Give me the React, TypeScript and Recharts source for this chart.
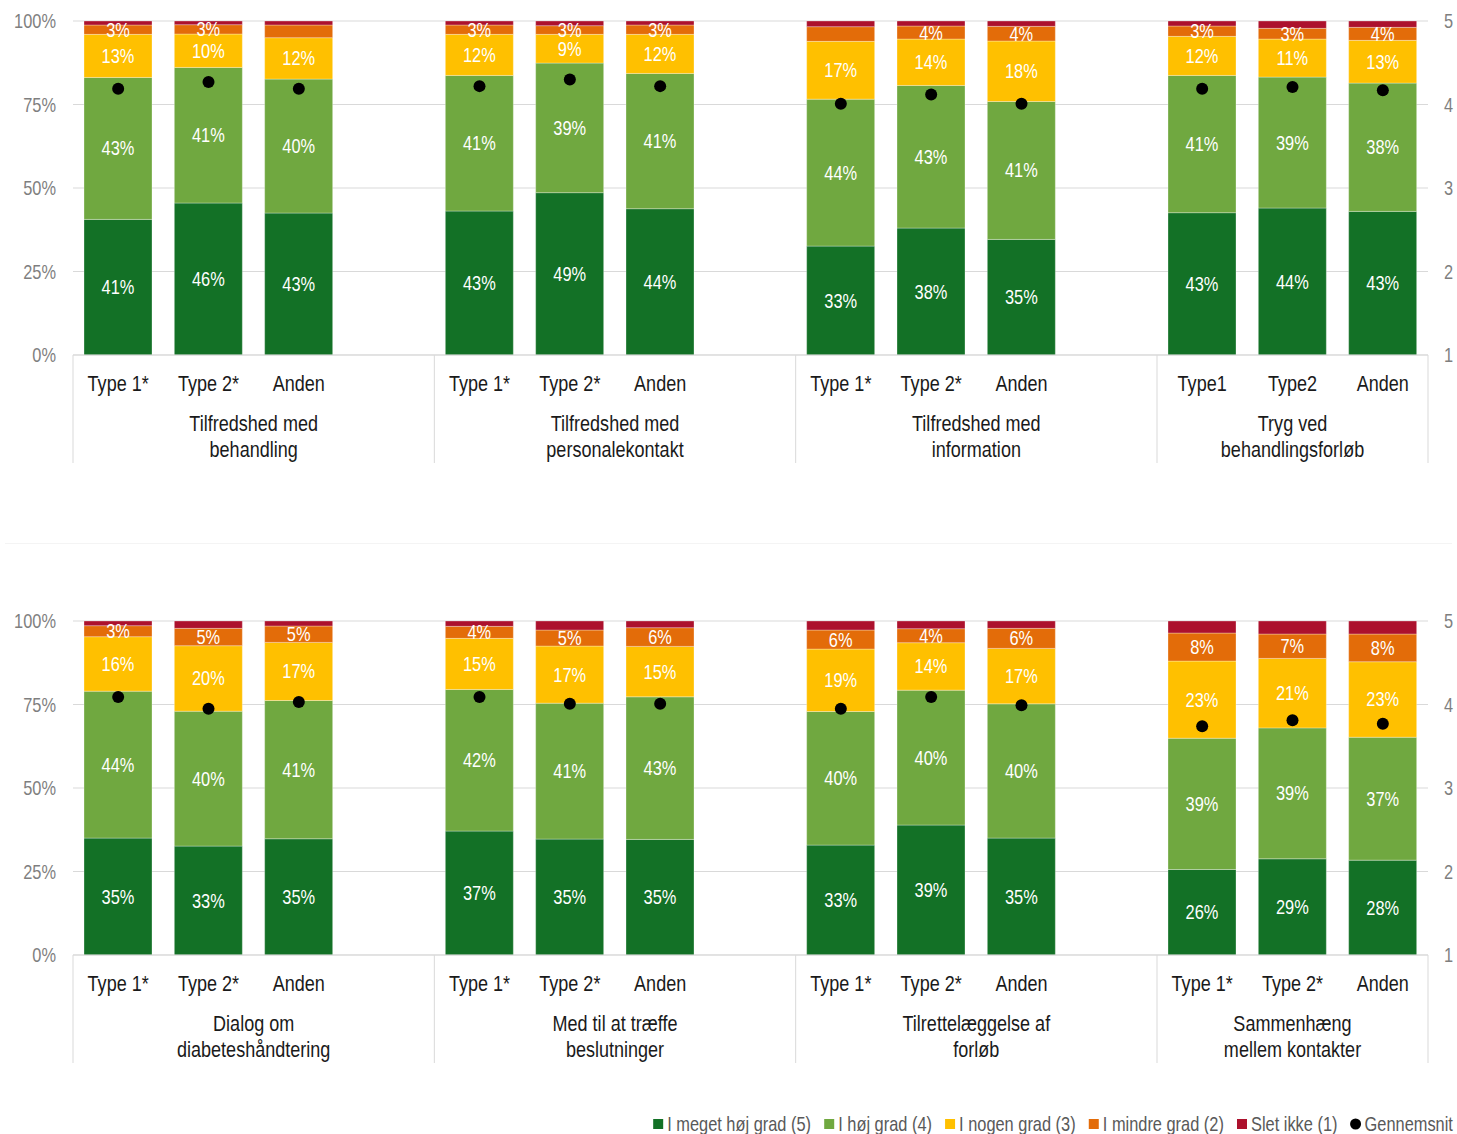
import React from "react";
import {
  ComposedChart, Bar, Scatter, XAxis, YAxis, CartesianGrid, LabelList, Legend,
} from "recharts";

// Arial-Narrow look: Liberation Sans squeezed horizontally
const FONT = "'Liberation Sans', Arial, sans-serif";
const NARROW = 0.82;

const CHART_W = 1457;
const LEFT_W = 73;
const RIGHT_W = 29;
const PLOT_TOP = 21;
const PLOT_H = 334;
const AXIS_H = 115;
const LEGEND_H = 64;
const SLOTS = 15;
const BAND = (CHART_W - LEFT_W - RIGHT_W) / SLOTS;

const SERIES = [
  { key: "veryHigh", name: "I meget høj grad (5)", color: "#137126" },
  { key: "high", name: "I høj grad (4)", color: "#70A840" },
  { key: "some", name: "I nogen grad (3)", color: "#FFC000" },
  { key: "less", name: "I mindre grad (2)", color: "#E36C09" },
  { key: "none", name: "Slet ikke (1)", color: "#AC112D" },
];

// --- top panel ---
const topDomains = [
  ["Tilfredshed med", "behandling"],
  ["Tilfredshed med", "personalekontakt"],
  ["Tilfredshed med", "information"],
  ["Tryg ved", "behandlingsforløb"],
];
const topCategories = [
  "Type 1*", "Type 2*", "Anden",
  "Type 1*", "Type 2*", "Anden",
  "Type 1*", "Type 2*", "Anden",
  "Type1", "Type2", "Anden",
];
const topVeryHigh = [40.6, 45.5, 42.5, 43.1, 48.6, 43.8, 32.6, 38.0, 34.6, 42.6, 44.0, 43.0];
const topHigh = [42.5, 40.6, 40.1, 40.6, 38.8, 40.5, 44.0, 42.7, 41.3, 41.1, 39.2, 38.4];
const topSome = [12.9, 10.0, 12.4, 12.3, 8.6, 11.7, 17.3, 13.9, 18.1, 11.7, 11.4, 12.8];
const topLess = [2.8, 2.8, 3.8, 2.8, 2.6, 2.8, 4.4, 3.9, 4.4, 3.1, 3.2, 3.9];
const topNone = [1.2, 1.1, 1.2, 1.2, 1.4, 1.2, 1.7, 1.5, 1.6, 1.5, 2.2, 1.9];
const topMean = [4.19, 4.27, 4.19, 4.22, 4.30, 4.22, 4.01, 4.12, 4.01, 4.19, 4.21, 4.17];
// segments printed without a value label
const topUnlabelled: [string, number][] = [["less", 2], ["less", 6]];

// --- bottom panel ---
const bottomDomains = [
  ["Dialog om", "diabeteshåndtering"],
  ["Med til at træffe", "beslutninger"],
  ["Tilrettelæggelse af", "forløb"],
  ["Sammenhæng", "mellem kontakter"],
];
const bottomCategories = [
  "Type 1*", "Type 2*", "Anden",
  "Type 1*", "Type 2*", "Anden",
  "Type 1*", "Type 2*", "Anden",
  "Type 1*", "Type 2*", "Anden",
];
const bottomVeryHigh = [35.0, 32.6, 34.8, 37.1, 34.7, 34.6, 32.9, 38.9, 35.0, 25.6, 28.8, 28.4];
const bottomHigh = [44.0, 40.4, 41.4, 42.4, 40.7, 42.7, 40.0, 40.4, 40.2, 39.3, 39.2, 36.8];
const bottomSome = [16.3, 19.6, 17.4, 15.3, 17.1, 15.1, 18.7, 14.2, 16.6, 23.1, 20.8, 22.6];
const bottomLess = [3.3, 5.2, 4.9, 3.6, 4.8, 5.6, 5.7, 4.2, 6.0, 8.4, 7.3, 8.3];
const bottomNone = [1.4, 2.2, 1.5, 1.6, 2.7, 2.0, 2.7, 2.3, 2.2, 3.6, 3.9, 3.9];
const bottomMean = [4.09, 3.95, 4.03, 4.09, 4.01, 4.01, 3.95, 4.09, 3.99, 3.74, 3.81, 3.77];
const bottomUnlabelled: [string, number][] = [];

const pctTicks = [0, 25, 50, 75, 100];
const meanTicks = [1, 2, 3, 4, 5];

type Row = Record<string, any>;

function buildRows(
  domains: string[][], categories: string[], series: Record<string, number[]>,
  mean: number[], unlabelled: [string, number][],
): Row[] {
  const rows: Row[] = [];
  domains.forEach((domain, g) => {
    const last = g === domains.length - 1;
    for (let j = 0; j < 3; j++) {
      const i = g * 3 + j;
      const row: Row = {
        slot: `${g}-${j}`,
        cat: categories[i],
        domain: j === 0 ? domain : null,
        domainSlots: last ? 3 : 4,
        closes: last && j === 2,
        mean: mean[i],
      };
      Object.keys(series).forEach((k) => {
        const v = series[k][i];
        row[k] = v;
        const hide = k === "none" || unlabelled.some(([s, n]) => s === k && n === i);
        row[`${k}Label`] = hide ? "" : `${Math.round(v)}%`;
      });
      rows.push(row);
    }
    if (!last) rows.push({ slot: `${g}-gap`, cat: "", domain: null });
  });
  return rows;
}

const topRows = buildRows(
  topDomains, topCategories,
  { veryHigh: topVeryHigh, high: topHigh, some: topSome, less: topLess, none: topNone },
  topMean, topUnlabelled,
);
const bottomRows = buildRows(
  bottomDomains, bottomCategories,
  { veryHigh: bottomVeryHigh, high: bottomHigh, some: bottomSome, less: bottomLess, none: bottomNone },
  bottomMean, bottomUnlabelled,
);

let measureCtx: CanvasRenderingContext2D | null = null;
function textWidth(text: string, size: number) {
  if (!measureCtx) measureCtx = document.createElement("canvas").getContext("2d");
  if (!measureCtx) return text.length * size * 0.5;
  measureCtx.font = `${size}px ${FONT}`;
  return measureCtx.measureText(text).width * NARROW;
}

function NarrowText({ x, y, size, fill, anchor = "middle", dy, children }: any) {
  return (
    <text transform={`translate(${x},${y}) scale(${NARROW},1)`} textAnchor={anchor} dy={dy}
      fontSize={size} fill={fill} fontFamily={FONT}>{children}</text>
  );
}

function CategoryTick({ x, y, payload, rows }: any) {
  const row = rows.find((r: Row) => r.slot === payload.value);
  if (!row) return null;
  const left = x - BAND / 2;
  const lineStyle = { stroke: "#d9d9d9", strokeWidth: 1 };
  return (
    <g>
      <NarrowText x={x} y={y + 36} size={22} fill="#1a1a1a">{row.cat}</NarrowText>
      {row.domain && (
        <>
          <line x1={left} x2={left} y1={y} y2={y + 108} {...lineStyle} />
          {row.domain.map((line: string, k: number) => (
            <NarrowText key={k} x={left + (row.domainSlots * BAND) / 2} y={y + 76 + k * 26}
              size={22} fill="#1a1a1a">{line}</NarrowText>
          ))}
        </>
      )}
      {row.closes && <line x1={x + BAND / 2} x2={x + BAND / 2} y1={y} y2={y + 108} {...lineStyle} />}
    </g>
  );
}

const PctTick = ({ x, y, payload }: any) => (
  <NarrowText x={x} y={y} dy="0.35em" anchor="end" size={20} fill="#7f7f7f">{`${payload.value}%`}</NarrowText>
);
const MeanTick = ({ x, y, payload }: any) => (
  <NarrowText x={x} y={y} dy="0.35em" anchor="start" size={20} fill="#7f7f7f">{payload.value}</NarrowText>
);

const SegmentLabel = ({ x, y, width, height, value }: any) =>
  value ? (
    <NarrowText x={x + width / 2} y={y + height / 2} dy="0.35em" size={20} fill="#ffffff">{value}</NarrowText>
  ) : null;

const MeanDot = (p: any) =>
  Number.isFinite(p.cx) && Number.isFinite(p.cy) ? <circle cx={p.cx} cy={p.cy} r={6} fill="#000" /> : <g />;

// legend laid out right-to-left from the chart's right edge
function LegendContent() {
  const size = 20;
  const items = [
    ...SERIES.map((s) => ({ label: s.name, color: s.color, dot: false })),
    { label: "Gennemsnit", color: "#000", dot: true },
  ];
  const gap = 13;
  const marker = 10;
  const pad = 4;
  let cursor = CHART_W - 4;
  const placed = items.slice().reverse().map((it) => {
    const w = textWidth(it.label, size);
    const textX = cursor - w;
    const markX = textX - pad - marker;
    cursor = markX - gap;
    return { ...it, textX, markX };
  });
  const cy = LEGEND_H - 10;
  return (
    <svg width={CHART_W} height={LEGEND_H} style={{ display: "block" }}>
      {placed.map((it) => (
        <g key={it.label}>
          {it.dot
            ? <circle cx={it.markX + marker / 2} cy={cy} r={5.5} fill={it.color} />
            : <rect x={it.markX} y={cy - marker / 2} width={marker} height={marker} fill={it.color} />}
          <NarrowText x={it.textX} y={cy} dy="0.35em" anchor="start" size={size} fill="#595959">{it.label}</NarrowText>
        </g>
      ))}
    </svg>
  );
}

function Panel({ rows, legend }: { rows: Row[]; legend?: boolean }) {
  const height = PLOT_TOP + PLOT_H + AXIS_H + (legend ? LEGEND_H : 0);
  return (
    <ComposedChart width={CHART_W} height={height} data={rows}
      margin={{ top: PLOT_TOP, right: 0, bottom: 0, left: 0 }} barSize={68}>
      <CartesianGrid vertical={false} stroke="#d9d9d9" yAxisId="pct" />
      <XAxis dataKey="slot" interval={0} height={AXIS_H} tickSize={0} tickMargin={0}
        axisLine={{ stroke: "#d9d9d9" }} tickLine={false}
        tick={(props: any) => <CategoryTick {...props} rows={rows} />} />
      <YAxis yAxisId="pct" width={LEFT_W} domain={[0, 100]} allowDataOverflow ticks={pctTicks}
        axisLine={false} tickLine={false} tickSize={0} tickMargin={17} tick={PctTick} />
      <YAxis yAxisId="mean" orientation="right" width={RIGHT_W} domain={[1, 5]} allowDataOverflow ticks={meanTicks}
        axisLine={false} tickLine={false} tickSize={0} tickMargin={16} tick={MeanTick} />
      {SERIES.map((s) => (
        <Bar key={s.key} dataKey={s.key} name={s.name} stackId="share" yAxisId="pct" fill={s.color}
          stroke="#ffffff" strokeOpacity={0.3} strokeWidth={1} isAnimationActive={false}>
          {s.key !== "none" && <LabelList dataKey={`${s.key}Label`} content={SegmentLabel} />}
        </Bar>
      ))}
      <Scatter dataKey="mean" name="Gennemsnit" yAxisId="mean" fill="#000" shape={MeanDot} isAnimationActive={false} />
      {legend && (
        <Legend verticalAlign="bottom" align="right" content={LegendContent}
          wrapperStyle={{ left: 0, width: CHART_W, bottom: 0 }} />
      )}
    </ComposedChart>
  );
}

export default function App() {
  return (
    <div style={{ position: "absolute", top: 0, left: 0, width: CHART_W, height: 1134, background: "#fff" }}>
      <div style={{ position: "absolute", top: 0, left: 0 }}>
        <Panel rows={topRows} />
      </div>
      <div style={{ position: "absolute", top: 543, left: 5, width: CHART_W - 10, height: 1, background: "#f4f4f4" }} />
      <div style={{ position: "absolute", top: 600, left: 0 }}>
        <Panel rows={bottomRows} legend />
      </div>
    </div>
  );
}
